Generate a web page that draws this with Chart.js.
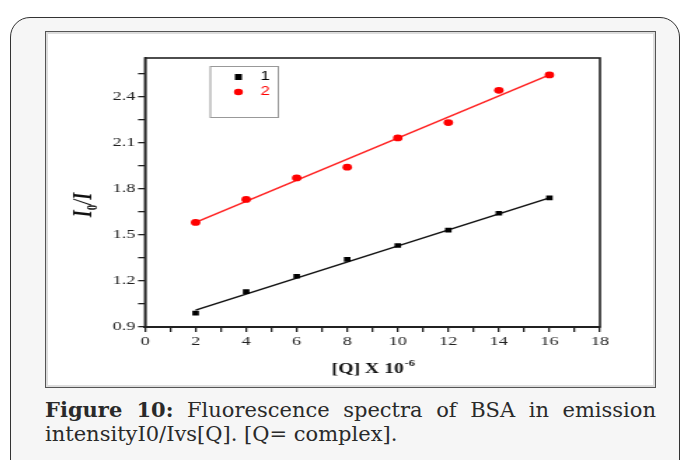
<!DOCTYPE html>
<html>
<head>
<meta charset="utf-8">
<script src="https://cdn.jsdelivr.net/npm/chart.js@4"></script>
<style>
  body { margin: 0; background: #fff; width: 682px; height: 460px; overflow: hidden; position: relative; }
  #card {
    position: absolute; left: 10px; top: 17px; width: 670px; height: 470px;
    box-sizing: border-box; border: 1.5px solid #333; border-radius: 20px; background: #f6f6f6;
  }
  #frame {
    position: absolute; left: 45px; top: 31px; width: 611px; height: 357px;
    box-sizing: border-box; border: 1px solid #555; box-shadow: inset 0 0 0 2px #ddd; background: #fff;
  }
  #chart { position: absolute; left: 45px; top: 31px; }
  #caption {
    position: absolute; left: 45px; top: 398px; width: 611px;
    font-family: "DejaVu Serif", serif; font-size: 21px; line-height: 24px; color: #2a2a2a;
  }
  #caption .l1 { display: block; text-align: justify; text-align-last: justify; }
</style>
</head>
<body>
<div id="card"></div>
<div id="frame"></div>
<!-- la figura original está estirada en horizontal: el lienzo se dibuja más estrecho y se escala -->
<canvas id="chart" width="436" height="357" style="width:611px;height:357px"></canvas>
<div id="caption">
  <span class="l1"><b>Figure 10:</b> Fluorescence spectra of BSA in emission</span>
  intensityI0/Ivs[Q]. [Q= complex].
</div>
<script>
// valores
const xValues = [2, 4, 6, 8, 10, 12, 14, 16];
const series1 = [0.99, 1.13, 1.23, 1.34, 1.43, 1.53, 1.64, 1.74];
const series2 = [1.58, 1.73, 1.87, 1.94, 2.13, 2.23, 2.44, 2.54];
// rectas de ajuste (extremos)
const fitX = [2, 16];
const fit1 = [1.01, 1.74];
const fit2 = [1.58, 2.54];
// ejes
const xTicks = [0, 1, 2, 3, 4, 5, 6, 7, 8, 9, 10, 11, 12, 13, 14, 15, 16, 17, 18];
const xLabels = [0, 2, 4, 6, 8, 10, 12, 14, 16, 18];
const yTicks = [0.9, 1.05, 1.2, 1.35, 1.5, 1.65, 1.8, 1.95, 2.1, 2.25, 2.4, 2.55];
const yLabels = [0.9, 1.2, 1.5, 1.8, 2.1, 2.4];

const pts = (xs, ys) => xs.map((x, i) => ({ x: x, y: ys[i] }));
const near = (list, v) => list.some(t => Math.abs(t - v) < 1e-6);

const axisColor = '#222';
const serif = '"Liberation Serif", "Times New Roman", serif';
const tickFont = { family: serif, size: 13 };

const extras = {
  id: 'extras',
  afterDraw(chart) {
    const ctx = chart.ctx;
    const a = chart.chartArea;
    ctx.save();
    // marco superior y derecho
    ctx.strokeStyle = axisColor;
    ctx.lineWidth = 1.6;
    ctx.strokeRect(a.left, a.top, a.right - a.left, a.bottom - a.top);

    // leyenda
    ctx.strokeStyle = '#999';
    ctx.lineWidth = 1;
    ctx.strokeRect(118, 35.5, 48.5, 51);
    ctx.font = '12px "Liberation Sans", Arial, sans-serif';
    ctx.textBaseline = 'middle';
    ctx.textAlign = 'center';
    [0, 1].forEach((i) => {
      const ds = chart.data.datasets[i];
      const y = 46 + i * 15;
      ctx.fillStyle = ds.backgroundColor;
      if (ds.pointStyle === 'rect') {
        ctx.fillRect(135.5, y - 3, 5, 6);
      } else {
        ctx.beginPath();
        ctx.arc(138, y, 3.2, 0, Math.PI * 2);
        ctx.fill();
      }
      ctx.fillText(ds.label, 157, y);
    });

    // título eje x: [Q] X 10^-6
    ctx.fillStyle = '#111';
    ctx.textAlign = 'left';
    ctx.textBaseline = 'alphabetic';
    const main = '[Q] X 10';
    ctx.font = 'bold 14px ' + serif;
    const wMain = ctx.measureText(main).width;
    ctx.font = 'bold 9px ' + serif;
    const wSup = ctx.measureText('-6').width;
    const x0 = 234 - (wMain + wSup) / 2;
    ctx.font = 'bold 14px ' + serif;
    ctx.fillText(main, x0, 342);
    ctx.font = 'bold 9px ' + serif;
    ctx.fillText('-6', x0 + wMain + 0.5, 335);

    // título eje y: I0/I
    ctx.translate(33, 174);
    ctx.rotate(-Math.PI / 2);
    ctx.font = 'bold italic 18px ' + serif;
    const wI = ctx.measureText('I').width;
    ctx.font = 'bold 11px ' + serif;
    const w0 = ctx.measureText('0').width;
    ctx.font = 'bold italic 18px ' + serif;
    const wRest = ctx.measureText('/I').width;
    const s = -(wI + w0 + wRest) / 2;
    ctx.fillText('I', s, 0);
    ctx.font = 'bold 11px ' + serif;
    ctx.fillText('0', s + wI, 4);
    ctx.font = 'bold italic 18px ' + serif;
    ctx.fillText('/I', s + wI + w0, 0);
    ctx.restore();
  }
};

new Chart(document.getElementById('chart'), {
  type: 'scatter',
  data: {
    datasets: [
      { label: '1', data: pts(xValues, series1), pointStyle: 'rect', pointRadius: 3.3, backgroundColor: '#000', borderColor: '#000', borderWidth: 0 },
      { label: '2', data: pts(xValues, series2), pointStyle: 'circle', pointRadius: 3.4, backgroundColor: '#ff0000', borderColor: '#ff0000', borderWidth: 0 },
      { label: 'fit1', data: pts(fitX, fit1), showLine: true, pointRadius: 0, borderColor: '#111', borderWidth: 1.5 },
      { label: 'fit2', data: pts(fitX, fit2), showLine: true, pointRadius: 0, borderColor: '#f22', borderWidth: 1.5 }
    ]
  },
  options: {
    responsive: false,
    animation: false,
    layout: { padding: { left: 0, right: 40, top: 27, bottom: 0 } },
    plugins: { legend: { display: false }, tooltip: { enabled: false } },
    scales: {
      x: {
        type: 'linear', min: 0, max: 18,
        afterBuildTicks: (s) => { s.ticks = xTicks.map(v => ({ value: v })); },
        afterFit: (s) => { s.height = 61; },
        ticks: {
          autoSkip: false, maxRotation: 0, padding: 2, color: axisColor, font: tickFont,
          callback: (v) => near(xLabels, v) ? String(v) : ''
        },
        grid: { drawOnChartArea: false, drawTicks: true, tickLength: 5, color: axisColor, lineWidth: 1.3 },
        border: { display: true, color: axisColor, width: 2 }
      },
      y: {
        type: 'linear', min: 0.9, max: 2.65,
        afterBuildTicks: (s) => { s.ticks = yTicks.map(v => ({ value: v })); },
        afterFit: (s) => { s.width = 71.4; },
        ticks: {
          autoSkip: false, padding: 2, color: axisColor, font: tickFont,
          callback: (v) => near(yLabels, v) ? v.toFixed(1) : ''
        },
        grid: { drawOnChartArea: false, drawTicks: true, tickLength: 5, color: axisColor, lineWidth: 1.3 },
        border: { display: true, color: axisColor, width: 1.5 }
      }
    }
  },
  plugins: [extras]
});
</script>
</body>
</html>
